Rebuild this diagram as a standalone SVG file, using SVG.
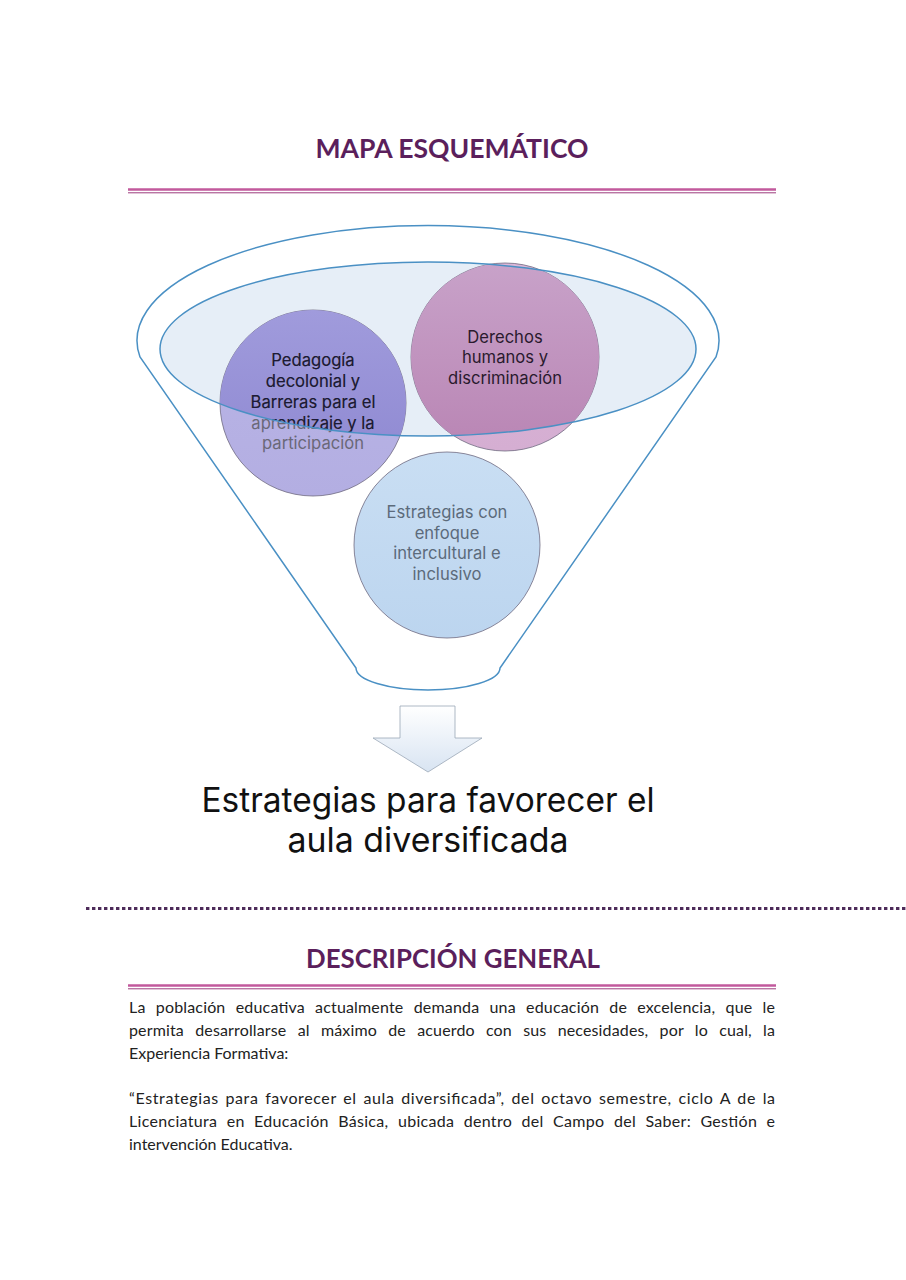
<svg xmlns="http://www.w3.org/2000/svg" width="906" height="1280" viewBox="0 0 906 1280">
<style>
.head{font-family:"Lato","Liberation Sans",sans-serif;font-weight:700;font-size:26px;fill:#5b1f5c;text-anchor:middle}
.para{font-family:"Lato","Liberation Sans",sans-serif;font-size:16px;fill:#222}
.ctext{font-family:"Inter","Noto Sans",sans-serif;font-size:16.6px;font-weight:400;text-anchor:middle}
.big{font-family:"Inter","Noto Sans",sans-serif;font-size:34px;fill:#111;text-anchor:middle}
.rule1{stroke:#c2599c;stroke-width:2.6}
.rule2{stroke:#9c3c7e;stroke-width:1}
.funnel{fill:#fff;stroke:#4a90c4;stroke-width:1.5}
.cstroke{stroke:#6e6a80;stroke-width:0.8}
</style>
<defs>
<clipPath id="ell"><ellipse cx="428" cy="349" rx="268" ry="87"/></clipPath>
<linearGradient id="gp" x1="0" y1="0" x2="0" y2="1"><stop offset="0" stop-color="#a09bdc"/><stop offset="1" stop-color="#8c86d0"/></linearGradient>
<linearGradient id="gpl" x1="0" y1="0" x2="0" y2="1"><stop offset="0" stop-color="#bab5e6"/><stop offset="1" stop-color="#b3aee2"/></linearGradient>
<linearGradient id="gd" x1="0" y1="0" x2="0" y2="1"><stop offset="0" stop-color="#c8a2c9"/><stop offset="1" stop-color="#b985b4"/></linearGradient>
<linearGradient id="gdl" x1="0" y1="0" x2="0" y2="1"><stop offset="0" stop-color="#dbb7d8"/><stop offset="1" stop-color="#d5aed2"/></linearGradient>
<linearGradient id="ge" x1="0" y1="0" x2="0" y2="1"><stop offset="0" stop-color="#c9def3"/><stop offset="1" stop-color="#bcd5ef"/></linearGradient>
<linearGradient id="ga" x1="0" y1="0" x2="0" y2="1"><stop offset="0" stop-color="#ffffff"/><stop offset="1" stop-color="#d8e4f2"/></linearGradient>
</defs>

<g id="title">
<text class="head" x="452" y="158" textLength="273" lengthAdjust="spacingAndGlyphs">MAPA ESQUEMÁTICO</text>
<line class="rule1" x1="128" y1="189.5" x2="776" y2="189.5"/>
<line class="rule2" x1="128" y1="192.8" x2="776" y2="192.8"/>
</g>

<g id="funnel">
<path class="funnel" d="M140 357 A291 115 0 1 1 716 357 L500 668 A72 22 0 0 1 356 668 Z"/>
<ellipse cx="428" cy="349" rx="268" ry="87" fill="#e6eef7"/>
</g>

<g id="node-pedagogia">
<circle class="cstroke" cx="313" cy="403" r="93" fill="url(#gpl)"/>
<circle cx="313" cy="403" r="93" fill="url(#gp)" clip-path="url(#ell)"/>
<g class="ctext" fill="#6a6878">
<text x="313" y="366">Pedagogía</text>
<text x="313" y="387">decolonial y</text>
<text x="313" y="408">Barreras para el</text>
<text x="313" y="429">aprendizaje y la</text>
<text x="313" y="449">participación</text>
</g>
<g class="ctext" fill="#1c1a36" clip-path="url(#ell)">
<text x="313" y="366">Pedagogía</text>
<text x="313" y="387">decolonial y</text>
<text x="313" y="408">Barreras para el</text>
<text x="313" y="429">aprendizaje y la</text>
<text x="313" y="449">participación</text>
</g>
</g>

<g id="node-derechos">
<circle class="cstroke" cx="505" cy="357" r="94" fill="url(#gdl)"/>
<circle cx="505" cy="357" r="94" fill="url(#gd)" clip-path="url(#ell)"/>
<g class="ctext" fill="#2a1a2e">
<text x="505" y="343">Derechos</text>
<text x="505" y="363">humanos y</text>
<text x="505" y="384">discriminación</text>
</g>
</g>

<g id="node-estrategias">
<circle class="cstroke" cx="447" cy="545" r="93" fill="url(#ge)" stroke="#9aaab8"/>
<g class="ctext" fill="#5c6b7b">
<text x="447" y="518">Estrategias con</text>
<text x="447" y="539">enfoque</text>
<text x="447" y="559">intercultural e</text>
<text x="447" y="580">inclusivo</text>
</g>
</g>

<g id="connectors">
<ellipse cx="428" cy="349" rx="268" ry="87" fill="none" stroke="#4a90c4" stroke-width="1.5"/>
<path d="M400 706 L455 706 L455 738 L482 738 L428 772 L373 738 L400 738 Z" fill="url(#ga)" stroke="#9aa7b6" stroke-width="0.8"/>
</g>

<g id="result">
<text class="big" x="428" y="812" textLength="453" lengthAdjust="spacingAndGlyphs">Estrategias para favorecer el</text>
<text class="big" x="428" y="852" textLength="281" lengthAdjust="spacingAndGlyphs">aula diversificada</text>
</g>

<line x1="86" y1="908.5" x2="906" y2="908.5" stroke="#4e2c5a" stroke-width="3.2" stroke-dasharray="3.4 2.6"/>

<g id="description">
<text class="head" x="453" y="968" textLength="294" lengthAdjust="spacingAndGlyphs">DESCRIPCIÓN GENERAL</text>
<line class="rule1" x1="128" y1="985.5" x2="776" y2="985.5"/>
<line class="rule2" x1="128" y1="988.8" x2="776" y2="988.8"/>
<text class="para" x="129" y="1013" word-spacing="6" textLength="646" lengthAdjust="spacing">La población educativa actualmente demanda una educación de excelencia, que le</text>
<text class="para" x="129" y="1036" word-spacing="7" textLength="646" lengthAdjust="spacing">permita desarrollarse al máximo de acuerdo con sus necesidades, por lo cual, la</text>
<text class="para" x="129" y="1059">Experiencia Formativa:</text>
<text class="para" x="129" y="1104" word-spacing="2" textLength="646" lengthAdjust="spacing">“Estrategias para favorecer el aula diversificada”, del octavo semestre, ciclo A de la</text>
<text class="para" x="129" y="1127" word-spacing="5" textLength="646" lengthAdjust="spacing">Licenciatura en Educación Básica, ubicada dentro del Campo del Saber: Gestión e</text>
<text class="para" x="129" y="1150">intervención Educativa.</text>
</g>
</svg>
